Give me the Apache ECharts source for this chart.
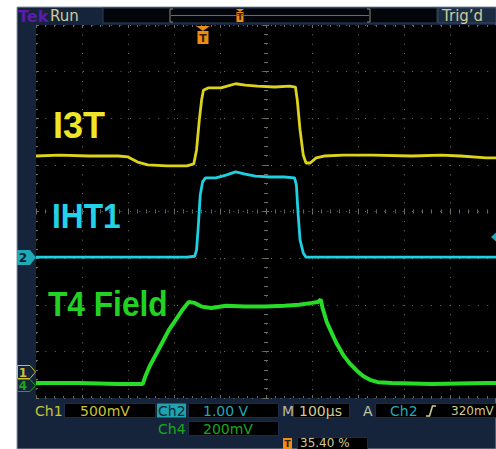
<!DOCTYPE html>
<html>
<head>
<meta charset="utf-8">
<script src="https://cdn.jsdelivr.net/npm/echarts@6/dist/echarts.min.js"></script>
<style>
  html, body { margin: 0; padding: 0; background: #ffffff; }
  #scope { width: 496px; height: 449px; }
</style>
</head>
<body>
<div id="scope"></div>
<script>
// Time in microseconds from the screen centre (100 µs/div),
// amplitude in graticule divisions from the centre line (8 div tall).
const i3tTime = [-500, -449, -385, -321, -300, -279, -257, -215, -172, -157, -151, -145, -140, -136, -126, -98, -66, -45, -19, 19, 51, 64, 68, 74, 81, 87, 96, 109, 126, 168, 232, 317, 381, 423, 479, 500];
const i3tDiv  = [1.19, 1.21, 1.19, 1.19, 1.17, 1.06, 1.00, 0.98, 0.98, 1.02, 1.32, 1.96, 2.39, 2.60, 2.65, 2.65, 2.74, 2.71, 2.69, 2.67, 2.69, 2.67, 2.39, 1.75, 1.21, 1.04, 1.04, 1.15, 1.19, 1.21, 1.21, 1.19, 1.21, 1.19, 1.15, 1.15];

const iht1Time = [-500, -364, -257, -172, -155, -151, -147, -143, -138, -132, -109, -87, -66, -45, -23, 9, 40, 62, 66, 70, 74, 81, 87, 126, 274, 479, 500];
const iht1Div  = [-0.98, -0.98, -0.98, -0.98, -0.96, -0.83, -0.29, 0.35, 0.63, 0.72, 0.72, 0.78, 0.85, 0.80, 0.76, 0.74, 0.74, 0.72, 0.57, -0.08, -0.61, -0.89, -0.98, -0.98, -0.98, -0.98, -0.98];

const t4Time = [-500, -406, -321, -279, -268, -262, -253, -240, -226, -211, -194, -181, -168, -155, -140, -119, -87, -45, -2, 40, 72, 100, 113, 119, 123, 132, 143, 153, 168, 183, 198, 211, 226, 243, 274, 360, 479, 500];
const t4Div  = [-3.68, -3.68, -3.70, -3.70, -3.70, -3.53, -3.32, -3.08, -2.82, -2.54, -2.29, -2.10, -1.94, -1.96, -2.04, -2.07, -2.02, -2.04, -2.04, -2.02, -2.00, -1.96, -1.94, -1.89, -2.07, -2.37, -2.61, -2.82, -3.08, -3.27, -3.42, -3.53, -3.61, -3.66, -3.68, -3.70, -3.68, -3.68];

const traceNames  = ['I3T', 'IHT1', 'T4 Field'];
const traceColors = ['#dcd41a', '#1dd0e2', '#26dc26'];
const labelColors = ['#eee626', '#22d2e8', '#22d222'];

// Readout strings
const ch1Readout = ['Ch1', '500mV'];
const ch2Readout = ['Ch2', '1.00 V'];
const ch4Readout = ['Ch4', '200mV'];
const timebaseReadout = ['M', '100\u00b5s'];
const triggerReadout = ['A', 'Ch2', '320mV'];
const triggerPosition = '35.40 %';
const statusText = ['Tek', 'Run', 'Trig\u2019d'];

const GRID = '#6e6e60';
const PANEL = '#15243a';
const BEIGE = '#cfcb96';
const YEL = '#c9c236';
const TEAL = '#1fa9b6';
const GRN = '#1aa81a';
const ORANGE = '#f08c12';

function zip(t, v) { return t.map((x, i) => [x, v[i]]); }

function xAxisDef(opts) {
  return Object.assign({
    type: 'value', min: -500, max: 500, interval: 100,
    axisLabel: { show: false },
    axisLine: { show: false, onZero: false },
    axisTick: { show: true, inside: true, length: 3, lineStyle: { color: GRID } },
    minorTick: { show: true, splitNumber: 5, length: 2, lineStyle: { color: GRID } },
    splitLine: { show: false }
  }, opts);
}
function yAxisDef(opts) {
  return Object.assign({
    type: 'value', min: -4, max: 4, interval: 1,
    axisLabel: { show: false },
    axisLine: { show: false, onZero: false },
    axisTick: { show: true, inside: true, length: 3, lineStyle: { color: GRID } },
    minorTick: { show: true, splitNumber: 5, length: 2, lineStyle: { color: GRID } },
    splitLine: { show: false }
  }, opts);
}

const chart = echarts.init(document.getElementById('scope'), null, { renderer: 'svg' });

const txt = (x, y, text, fill, size, extra) => ({
  type: 'text', x: x, y: y, z: 50,
  style: Object.assign({ text: text, fill: fill, font: (size || 14) + 'px "DejaVu Sans"', verticalAlign: 'middle' }, extra || {})
});
const box = (x, y, w, h, fill, stroke) => ({
  type: 'rect', z: 40, shape: { x: x, y: y, width: w, height: h },
  style: { fill: fill, stroke: stroke || null, lineWidth: 1 }
});

const graphics = [
  // instrument panel
  { type: 'rect', z: -5, shape: { x: 17, y: 7, width: 479, height: 442 }, style: { fill: PANEL, stroke: '#8a96a4', lineWidth: 1 } },
  // status bar
  box(103, 8, 334, 15, '#02060a', '#2c3c54'),
  box(438, 8, 58, 15, '#1a2b42', '#3a4a62'),
  txt(18, 16, statusText[0], '#5b1cae', 16, { font: 'bold 16px "DejaVu Sans"' }),
  txt(50, 16, statusText[1], BEIGE, 15),
  txt(442, 16, statusText[2], BEIGE, 15),
  // record view brackets and trigger point
  { type: 'polyline', z: 45, shape: { points: [[173, 9], [170, 9], [170, 22], [173, 22]] }, style: { stroke: '#8c8c7c', fill: null, lineWidth: 1 } },
  { type: 'polyline', z: 45, shape: { points: [[367, 9], [370, 9], [370, 22], [367, 22]] }, style: { stroke: '#8c8c7c', fill: null, lineWidth: 1 } },
  { type: 'line', z: 45, shape: { x1: 171, y1: 15.5, x2: 369, y2: 15.5 }, style: { stroke: '#1a8c8c', lineWidth: 1 } },
  { type: 'polygon', z: 46, shape: { points: [[236, 9], [244, 9], [240, 12]] }, style: { fill: ORANGE } },
  box(236.5, 12, 7, 10, ORANGE),
  txt(240, 17, 'T', '#3a1e00', 9, { font: 'bold 9px "DejaVu Sans"', align: 'center' }),
  // trigger position marker on the graticule
  { type: 'polygon', z: 46, shape: { points: [[196, 26], [210, 26], [203, 31]] }, style: { fill: ORANGE } },
  box(197.5, 31, 11, 13, ORANGE),
  txt(203, 38, 'T', '#3a1e00', 11, { font: 'bold 11px "DejaVu Sans"', align: 'center' }),
  // channel ground markers
  { type: 'polygon', z: 46, shape: { points: [[17, 250], [30, 250], [36, 257.5], [30, 265], [17, 265]] }, style: { fill: TEAL } },
  txt(23, 258, '2', '#062030', 12, { font: 'bold 12px "DejaVu Sans"', align: 'center' }),
  { type: 'polygon', z: 46, shape: { points: [[17.5, 365.5], [30, 365.5], [35.5, 372], [30, 378.5], [17.5, 378.5]] }, style: { fill: PANEL, stroke: YEL, lineWidth: 1 } },
  txt(23, 372.5, '1', YEL, 12, { font: 'bold 12px "DejaVu Sans"', align: 'center' }),
  { type: 'polygon', z: 46, shape: { points: [[17.5, 379.5], [30, 379.5], [35.5, 385.5], [30, 391.5], [17.5, 391.5]] }, style: { fill: PANEL, stroke: GRN, lineWidth: 1 } },
  txt(23, 386, '4', GRN, 12, { font: 'bold 12px "DejaVu Sans"', align: 'center' }),
  // trigger level marker
  { type: 'polygon', z: 46, shape: { points: [[496, 232.5], [491, 237], [496, 241.5]] }, style: { fill: TEAL } },
  // readouts, row 1
  txt(35, 411, ch1Readout[0], YEL),
  box(64.5, 403.5, 91, 14, '#000', '#1c2c44'),
  txt(80, 411, ch1Readout[1], YEL),
  box(157, 403.5, 29, 14, '#1fa3ae'),
  txt(158, 411, ch2Readout[0], '#0b2838'),
  box(188.5, 403.5, 90, 14, '#000', '#1c2c44'),
  txt(203, 411, ch2Readout[1], TEAL),
  txt(282, 411, timebaseReadout[0], '#b9b8a2'),
  box(293.5, 403.5, 56, 14, '#000', '#1c2c44'),
  txt(299, 411, timebaseReadout[1], BEIGE),
  txt(363, 411, triggerReadout[0], '#c4c3a8'),
  box(375.5, 403.5, 125, 14, '#000', '#1c2c44'),
  txt(390, 411, triggerReadout[1], TEAL),
  { type: 'polyline', z: 50, shape: { points: [[426, 416], [429.5, 416], [432.5, 406], [436, 406]] }, style: { stroke: BEIGE, fill: null, lineWidth: 1.6 } },
  txt(451, 411, triggerReadout[2], BEIGE, 12),
  // row 2
  txt(158, 429, ch4Readout[0], GRN),
  box(188.5, 421.5, 90, 14, '#000', '#1c2c44'),
  txt(203, 429, ch4Readout[1], GRN),
  // row 3
  box(283, 438, 9, 11, ORANGE),
  txt(287.5, 443.5, 'T', '#3a1e00', 9, { font: 'bold 9px "DejaVu Sans"', align: 'center' }),
  box(297.5, 437.5, 70, 14, '#000', '#1c2c44'),
  txt(300, 443, triggerPosition, BEIGE, 12),
  // trace names
  txt(53, 125, traceNames[0], labelColors[0], 36, { font: 'bold 36px "Liberation Sans"' }),
  { type: 'text', z: 50, x: 52, y: 215, scaleX: 0.88, style: { text: traceNames[1], fill: labelColors[1], font: 'bold 36px "Liberation Sans"', verticalAlign: 'middle' } },
  { type: 'text', z: 50, x: 48, y: 303, scaleX: 0.88, style: { text: traceNames[2], fill: labelColors[2], font: 'bold 36px "Liberation Sans"', verticalAlign: 'middle' } }
];

const option = {
  backgroundColor: '#ffffff',
  animation: false,
  grid: { left: 36, top: 25, width: 470, height: 373, show: true, backgroundColor: '#000000', borderWidth: 0, containLabel: false },
  xAxis: [
    // bottom edge + dotted vertical graticule
    xAxisDef({ position: 'bottom', splitLine: { show: true, lineStyle: { color: GRID, width: 1, type: [1, 8.33] } } }),
    xAxisDef({ position: 'top' }),
    // centre line ticks, both sides
    xAxisDef({ position: 'bottom', axisLine: { show: false, onZero: true, onZeroAxisIndex: 0 } }),
    xAxisDef({ position: 'bottom', axisLine: { show: false, onZero: true, onZeroAxisIndex: 0 },
      axisTick: { show: true, inside: false, length: 3, lineStyle: { color: GRID } } })
  ],
  yAxis: [
    yAxisDef({ position: 'left', splitLine: { show: true, lineStyle: { color: GRID, width: 1, type: [1, 8.4] } } }),
    yAxisDef({ position: 'left', axisLine: { show: false, onZero: true, onZeroAxisIndex: 0 } }),
    yAxisDef({ position: 'left', axisLine: { show: false, onZero: true, onZeroAxisIndex: 0 },
      axisTick: { show: true, inside: false, length: 3, lineStyle: { color: GRID } } })
  ],
  series: [
    { name: traceNames[0], type: 'line', data: zip(i3tTime, i3tDiv), showSymbol: false, symbol: 'none',
      lineStyle: { color: traceColors[0], width: 2.8 }, z: 3 },
    { name: traceNames[1], type: 'line', data: zip(iht1Time, iht1Div), showSymbol: false, symbol: 'none',
      lineStyle: { color: traceColors[1], width: 2.8 }, z: 4 },
    { name: traceNames[2], type: 'line', data: zip(t4Time, t4Div), showSymbol: false, symbol: 'none',
      lineStyle: { color: traceColors[2], width: 4 }, z: 5 }
  ],
  graphic: graphics
};

chart.setOption(option);
</script>
</body>
</html>
